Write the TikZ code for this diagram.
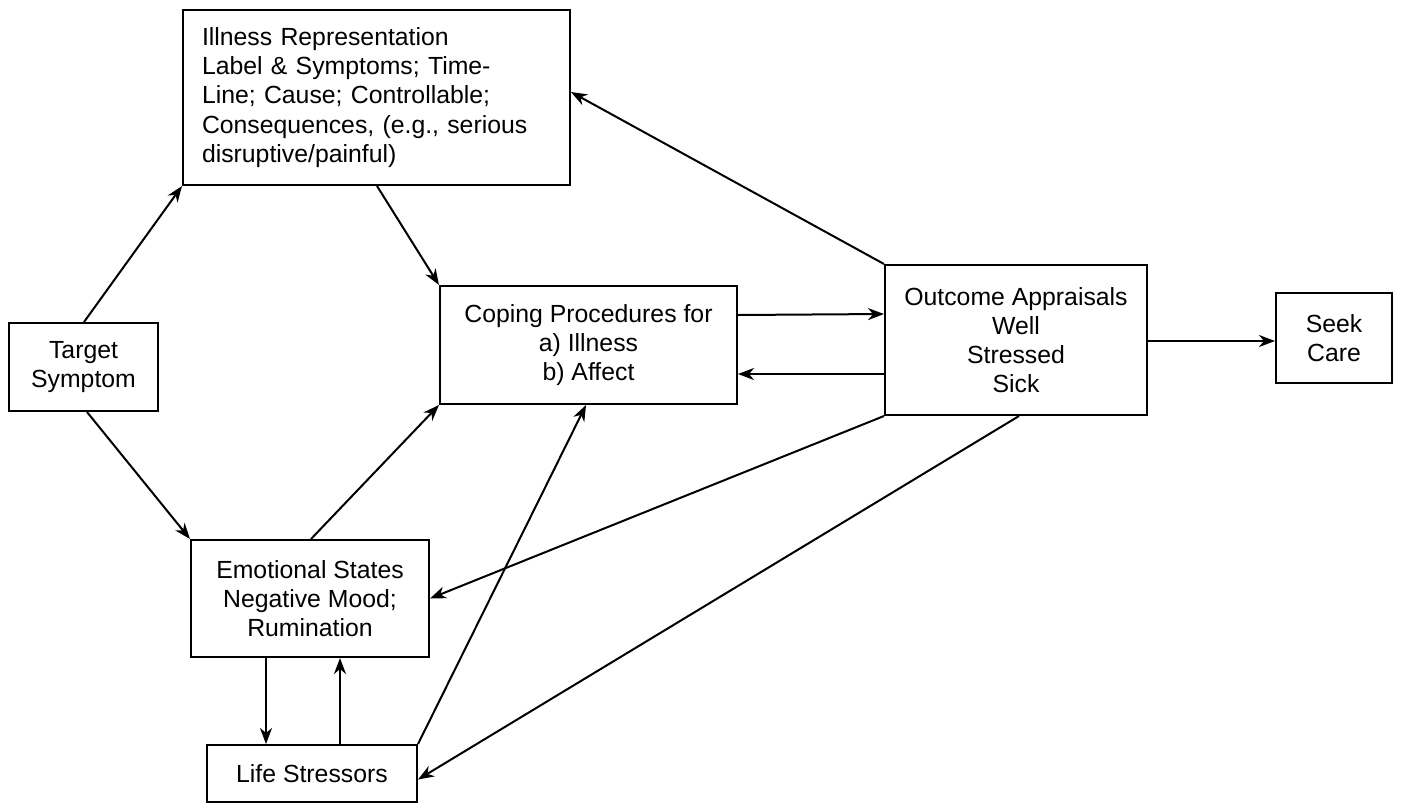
\documentclass[tikz,border=0pt]{standalone}
\usepackage{fontspec}
\setmainfont{Liberation Sans}
\usetikzlibrary{arrows.meta}
\begin{document}
\begin{tikzpicture}[x=0.5pt,y=-0.5pt,
  box/.style={draw,line width=1pt,rectangle,inner sep=0pt,align=center,
    font=\fontsize{12.4pt}{14.6pt}\selectfont},
  conn/.style={line width=1pt,-{Stealth[length=8pt,width=6pt,inset=2.5pt]}}]
\useasboundingbox (0,0) rectangle (1408,804);
\node[box,minimum width=387pt/2,minimum height=175pt/2,text width=349pt/2,align=left] (ill) at (376.5,97.5)
  {Illness Representation\\Label \& Symptoms; Time-\\Line; Cause; Controllable;\\Consequences, (e.g., serious\\disruptive/painful)};
\node[box,minimum width=149pt/2,minimum height=88pt/2] (tgt) at (83.5,367) {Target\\Symptom};
\node[box,minimum width=297pt/2,minimum height=118pt/2] (cop) at (588.5,345) {Coping Procedures for\\a) Illness\\b) Affect};
\node[box,minimum width=262pt/2,minimum height=150pt/2] (out) at (1016,340) {Outcome Appraisals\\Well\\Stressed\\Sick};
\node[box,minimum width=116pt/2,minimum height=90pt/2] (seek) at (1334,338) {Seek\\Care};
\node[box,minimum width=238pt/2,minimum height=117pt/2] (emo) at (310,598.5) {Emotional States\\Negative Mood;\\Rumination};
\node[box,minimum width=210pt/2,minimum height=57pt/2] (life) at (312,773.5) {Life Stressors};
% connectors
\draw[conn] (tgt.north west)++(76,0) coordinate (t1) -- (ill.south west);
\draw[conn] (tgt.south west)++(79,0) coordinate (t2) -- (emo.north west);
\draw[conn] (ill.south west)++(195,0) coordinate (i1) -- (cop.north west);
\draw[conn] (emo.north west)++(121,0) coordinate (e1) -- (cop.south west);
\draw[conn] (life.north east) -- ([xshift=147pt/2]cop.south west);
\draw[conn] ([yshift=-30pt/2]cop.north east) -- ([yshift=-50pt/2]out.north west);
\draw[conn] ([yshift=42pt/2]out.south west) -- ([yshift=31pt/2]cop.south east);
\draw[conn] (out.north west) -- ([yshift=-83pt/2]ill.north east);
\draw[conn] (out.south west) -- (emo.east);
\draw[conn] ([xshift=135pt/2]out.south west) -- ([yshift=-6pt/2]life.east);
\draw[conn] ([xshift=76pt/2]emo.south west) -- ([xshift=60pt/2]life.north west);
\draw[conn] ([xshift=134pt/2]life.north west) -- ([xshift=150pt/2]emo.south west);
\draw[conn] ([yshift=-1pt/2]out.east) -- ([yshift=-1pt/2]out.east -| seek.west);
\end{tikzpicture}
\end{document}
